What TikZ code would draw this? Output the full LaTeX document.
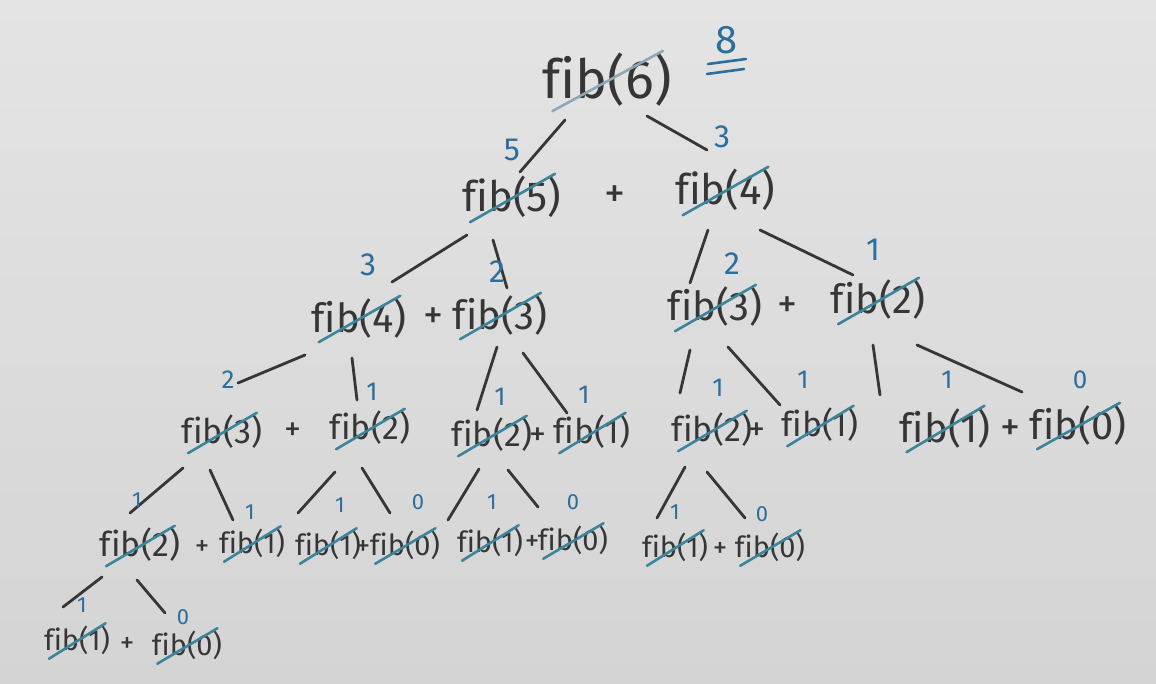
\documentclass[tikz,border=0pt]{standalone}
\usepackage{fontspec}
\setmainfont{Fira Sans}[Ligatures={NoCommon}]
\usetikzlibrary{calc}
\definecolor{ink}{HTML}{363636}
\definecolor{blu}{HTML}{2C6E9C}
\definecolor{strk}{HTML}{3D8399}
\definecolor{strkpale}{HTML}{8FA8B4}
\definecolor{bgtop}{HTML}{E4E4E4}
\definecolor{bgbot}{HTML}{D4D4D4}
\newcommand\fibstrike[2][strike]{\draw[#1] ($(#2.south west)!0.08!(#2.south east)+(0,4)$) -- ($(#2.north west)!0.93!(#2.north east)+(0,-2)$);}
\begin{document}
\begin{tikzpicture}[x=0.5pt,y=-0.5pt,
 fibA/.style={inner sep=0pt, text=ink, font=\fontsize{27}{30}\selectfont},
 fibB/.style={inner sep=0pt, text=ink, font=\fontsize{21}{24}\selectfont},
 fibC/.style={inner sep=0pt, text=ink, font=\fontsize{20}{23}\selectfont},
 fibD/.style={inner sep=0pt, text=ink, font=\fontsize{17}{20}\selectfont},
 fibE/.style={inner sep=0pt, text=ink, font=\fontsize{14.5}{17}\selectfont},
 numA/.style={inner sep=0pt, text=blu, font=\fontsize{20}{22}\selectfont},
 numB/.style={inner sep=0pt, text=blu, font=\fontsize{16}{18}\selectfont},
 numC/.style={inner sep=0pt, text=blu, font=\fontsize{13}{15}\selectfont},
 numD/.style={inner sep=0pt, text=blu, font=\fontsize{11}{13}\selectfont},
 edge/.style={draw=ink, line width=1.4pt, line cap=round},
 strike/.style={draw=strk, line width=1.3pt, line cap=round},
 palestrike/.style={draw=strkpale, line width=1.3pt, line cap=round},
 uline/.style={draw=blu, line width=1.3pt, line cap=round},
]
\useasboundingbox (0,0) rectangle (1156,684);
\shade[top color=bgtop, bottom color=bgbot] (0,0) rectangle (1156,684);

% ---- level 1
\node[fibA] (r) at (607,80) {fib(6)};
\node[numA] (res) at (727,40) {8};
\coordinate (u1a) at (708,64); \coordinate (u1b) at (746,59);
\coordinate (u2a) at (707,74); \coordinate (u2b) at (744,69);
\draw[uline] (u1a) -- (u1b);
\draw[uline] (u2a) -- (u2b);

% ---- level 2
\node[fibB] (a5) at (512,197) {fib(5)};
\node[fibB] (pa) at (615,197) {+};
\node[fibB] (a4) at (725,190) {fib(4)};

% ---- level 3
\node[fibC] (b4) at (359,318) {fib(4)};
\node[fibC] (pb) at (433,318) {+};
\node[fibC] (b3) at (500,315) {fib(3)};
\node[fibC] (c3) at (715,307) {fib(3)};
\node[fibC] (pc) at (787,307) {+};
\node[fibC] (c2) at (878,300) {fib(2)};

% ---- level 4
\node[fibD] (d3) at (222,432) {fib(3)};
\node[fibD] (pd) at (293,432) {+};
\node[fibD] (d2) at (370,428) {fib(2)};
\node[fibD] (e2) at (492,435) {fib(2)};
\node[fibD] (pe) at (538,437) {+};
\node[fibD] (e1) at (592,432) {fib(1)};
\node[fibD] (f2) at (712,430) {fib(2)};
\node[fibD] (pf) at (757,432) {+};
\node[fibD] (f1) at (820,425) {fib(1)};
\node[fibC] (g1) at (945,428) {fib(1)};
\node[fibC] (pg) at (1010,430) {+};
\node[fibC] (g0) at (1078,425) {fib(0)};

% ---- level 5
\node[fibD] (h2) at (140,545) {fib(2)};
\node[fibE] (ph) at (202,548) {+};
\node[fibE] (h1) at (252,543) {fib(1)};
\node[fibE] (i1) at (328,545) {fib(1)};
\node[fibE] (pi) at (363,548) {+};
\node[fibE] (i0) at (405,545) {fib(0)};
\node[fibE] (j1) at (490,542) {fib(1)};
\node[fibE] (pj) at (532,543) {+};
\node[fibE] (j0) at (573,540) {fib(0)};
\node[fibE] (k1) at (675,547) {fib(1)};
\node[fibE] (pk) at (720,550) {+};
\node[fibE] (k0) at (770,547) {fib(0)};

% ---- level 6
\node[fibE] (l1) at (77,640) {fib(1)};
\node[fibE] (pl) at (127,645) {+};
\node[fibE] (l0) at (187,645) {fib(0)};

% ---- strikes
\fibstrike[palestrike]{r}
\foreach \n in {a5,a4,b4,b3,c3,c2,d3,d2,e2,e1,f2,f1,g1,g0,h2,h1,i1,i0,j1,j0,k1,k0,l1,l0}{\fibstrike{\n}}

% ---- edges
\draw[edge] ([shift={(-42,40)}]r.center) -- ([shift={(8,-25)}]a5.center);
\draw[edge] ([shift={(40,36)}]r.center) -- ([shift={(-18,-40)}]a4.center);
\draw[edge] ([shift={(-45,38)}]a5.center) -- ([shift={(33,-36)}]b4.center);
\draw[edge] ([shift={(-19,43)}]a5.center) -- ([shift={(7,-27)}]b3.center);
\draw[edge] ([shift={(-17,40)}]a4.center) -- ([shift={(-25,-24)}]c3.center);
\draw[edge] ([shift={(35,40)}]a4.center) -- ([shift={(-25,-25)}]c2.center);
\draw[edge] ([shift={(-54,37)}]b4.center) -- ([shift={(16,-49)}]d3.center);
\draw[edge] ([shift={(-7,40)}]b4.center) -- ([shift={(-13,-28)}]d2.center);
\draw[edge] ([shift={(-3,32)}]b3.center) -- ([shift={(-15,-25)}]e2.center);
\draw[edge] ([shift={(23,38)}]b3.center) -- ([shift={(-25,-19)}]e1.center);
\draw[edge] ([shift={(-25,43)}]c3.center) -- ([shift={(-32,-37)}]f2.center);
\draw[edge] ([shift={(13,40)}]c3.center) -- ([shift={(-40,-20)}]f1.center);
\draw[edge] ([shift={(-5,45)}]c2.center) -- ([shift={(-65,-33)}]g1.center);
\draw[edge] ([shift={(39,45)}]c2.center) -- ([shift={(-56,-33)}]g0.center);
\draw[edge] ([shift={(-39,36)}]d3.center) -- ([shift={(-10,-32)}]h2.center);
\draw[edge] ([shift={(-12,38)}]d3.center) -- ([shift={(-19,-23)}]h1.center);
\draw[edge] ([shift={(-35,44)}]d2.center) -- ([shift={(-30,-32)}]i1.center);
\draw[edge] ([shift={(-8,40)}]d2.center) -- ([shift={(-15,-32)}]i0.center);
\draw[edge] ([shift={(-13,34)}]e2.center) -- ([shift={(-42,-22)}]j1.center);
\draw[edge] ([shift={(16,35)}]e2.center) -- ([shift={(-35,-33)}]j0.center);
\draw[edge] ([shift={(-27,37)}]f2.center) -- ([shift={(-18,-29)}]k1.center);
\draw[edge] ([shift={(-5,42)}]f2.center) -- ([shift={(-25,-29)}]k0.center);
\draw[edge] ([shift={(-38,32)}]h2.center) -- ([shift={(-14,-33)}]l1.center);
\draw[edge] ([shift={(-3,35)}]h2.center) -- ([shift={(-22,-32)}]l0.center);

% ---- value labels
\node[numB] (v5) at (512,150) {5};
\node[numB] (v3a) at (722,137) {3};
\node[numB] (v3b) at (368,265) {3};
\node[numB] (v2a) at (497,272) {2};
\node[numB] (v2b) at (732,264) {2};
\node[numB] (v1a) at (873,250) {1};
\node[numC] (v2c) at (228,380) {2};
\node[numC] (v1b) at (372,392) {1};
\node[numC] (v1c) at (500,397) {1};
\node[numC] (v1d) at (584,395) {1};
\node[numC] (v1e) at (718,388) {1};
\node[numC] (v1f) at (803,380) {1};
\node[numC] (v1g) at (947,380) {1};
\node[numC] (v0a) at (1080,380) {0};
\node[numD] (v1h) at (137,500) {1};
\node[numD] (v1i) at (250,512) {1};
\node[numD] (v1j) at (340,505) {1};
\node[numD] (v0b) at (418,502) {0};
\node[numD] (v1k) at (492,502) {1};
\node[numD] (v0c) at (573,502) {0};
\node[numD] (v1l) at (675,512) {1};
\node[numD] (v0d) at (762,514) {0};
\node[numD] (v1m) at (82,605) {1};
\node[numD] (v0e) at (183,617) {0};
\end{tikzpicture}
\end{document}
